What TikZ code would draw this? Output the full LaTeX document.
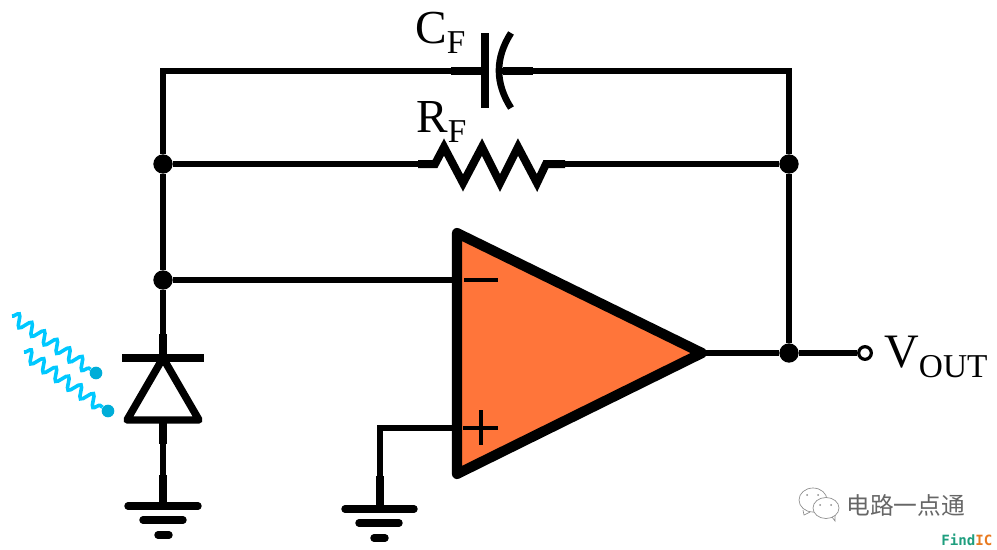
\documentclass[tikz,border=0pt]{standalone}
\usepackage{fontspec}
\setmainfont{Liberation Serif}
\newfontfamily\cjkfont{Noto Sans CJK SC}
\newfontfamily\logofont{DejaVu Sans Mono}
\usetikzlibrary{decorations.pathmorphing}
\definecolor{opampfill}{HTML}{FF753A}
\definecolor{waveblue}{HTML}{00C8FF}
\definecolor{wavedot}{HTML}{00ADD8}
\definecolor{logogreen}{HTML}{1E9E7E}
\definecolor{logoorange}{HTML}{E87A20}
\tikzstyle{wire} = [line width=4pt, line cap=butt, line join=miter]
\tikzstyle{lead} = [line width=5.6pt]
\tikzstyle{plate} = [line width=6.4pt]
\tikzstyle{gndbar} = [line width=5.6pt, line cap=round]
\tikzstyle{junction} = [circle, fill=black, inner sep=0pt, minimum size=14.5pt]
\tikzstyle{terminal} = [circle, draw=black, fill=white, line width=2.4pt, inner sep=0pt, minimum size=9.5pt]
\tikzstyle{wave} = [waveblue, line width=2.7pt, decorate, decoration={snake, segment length=11.4pt, amplitude=4.4pt}]
\tikzstyle{wavetip} = [circle, fill=wavedot, inner sep=0pt, minimum size=9.5pt]
\tikzstyle{label} = [anchor=base west, inner sep=0pt, font=\fontsize{35.5}{36}\selectfont]
\newcommand{\sublabel}[2]{#1\raisebox{-7.5pt}{\fontsize{25}{25}\selectfont #2}}
\begin{document}
\begin{tikzpicture}[x=0.75pt, y=-0.75pt]
	\useasboundingbox (0,0) rectangle (997,550);

	\node (jtop) [junction] at (163,164) {};
	\node (jinv) [junction] at (163,280) {};
	\node (jrf) [junction] at (789,164) {};
	\node (jout) [junction] at (789,353) {};
	\node (vout) [terminal] at (865,353) {};

	\coordinate (capl) at (485,71);
	\coordinate (capr) at (499,71);
	\coordinate (resl) at (418,164);
	\coordinate (resr) at (565,164);
	\coordinate (inv) at (457,280);
	\coordinate (noninv) at (457,428);
	\coordinate (tip) at (702,353);
	\coordinate (cathode) at (163,358);
	\coordinate (anode) at (163,420);
	\coordinate (gnda) at (163,506);
	\coordinate (gndb) at (380,509);

	\draw [wire] (jtop) |- (capl);
	\draw [wire] (capr) -| (jrf);
	\draw [wire] (jtop) -- (jinv);
	\draw [wire] (jtop) -- (resl);
	\draw [wire] (resr) -- (jrf);
	\draw [wire] (jrf) -- (jout);
	\draw [wire] (jinv) -- (inv);
	\draw [wire] (tip) -- (jout);
	\draw [wire] (jout) -- (vout);
	\draw [wire] (noninv) -| (gndb);
	\draw [wire] (jinv) -- (cathode);
	\draw [wire] (anode) -- (gnda);

	\draw [lead] (451,71) -- (capl);
	\draw [lead] (503,71) -- (533,71);
	\draw [plate] (485,33) -- (485,108);
	\draw [line width=5pt] (511,33) .. controls (495,58) and (495,83) .. (511,108);

	\draw [lead, line width=6pt, line join=miter] (resl) -- (435,164) -- (444,147) -- (463,183) -- (482,147) -- (500,183) -- (518,147) -- (537,183) -- (546,164) -- (resr);

	\draw [line width=7.6pt, line join=round, fill=opampfill] (457,233) -- (tip) -- (457,474) -- cycle;
	\draw [line width=3.6pt] (464,280) -- (498,280);
	\draw [line width=3.6pt] (463,428) -- (498,428);
	\draw [line width=3.6pt] (481,410) -- (481,445);

	\draw [lead] (163,334) -- (cathode);
	\draw [plate] (122,358) -- (204,358);
	\draw [line width=5.6pt, line join=round] (cathode) -- (199,420) -- (127,420) -- cycle;
	\draw [lead] (anode) -- (163,444);
	\draw [lead] (163,475) -- (gnda);
	\draw [gndbar] (128,506) -- (198,506);
	\draw [gndbar] (143,520) -- (183,520);
	\draw [gndbar] (158,535) -- (169,535);

	\draw [lead] (380,476) -- (gndb);
	\draw [gndbar] (345,509) -- (414,509);
	\draw [gndbar] (359,523) -- (399,523);
	\draw [gndbar] (374,538) -- (385,538);

	\node (tipa) [wavetip] at (96,373) {};
	\node (tipb) [wavetip] at (108,411) {};
	\coordinate (wavea) at (12,316);
	\coordinate (waveb) at (24,352);
	\draw [wave] (wavea) -- (tipa);
	\draw [wave] (waveb) -- (tipb);

	\node (cf) [label] at (415,43) {\sublabel{C}{F}};
	\node (rf) [label] at (416,132) {\sublabel{R}{F}};
	\node (voutlabel) [label, font=\fontsize{36}{36}\selectfont] at (884,367) {V\raisebox{-7.5pt}{\fontsize{25}{25}\selectfont OUT}};

	\node (wmtext) [anchor=west, inner sep=0pt, text=black!60, font=\cjkfont\fontsize{17.8}{18}\selectfont] at (846,505) {电路一点通};
	\node (logo) [anchor=base west, inner sep=0pt, font=\logofont\bfseries\fontsize{10.6}{11}\selectfont] at (941,545) {\textcolor{logogreen}{Find}\textcolor{logoorange}{IC}};

	\draw [black!45, line width=0.5pt, fill=white] (813,500) ellipse [x radius=14, y radius=12];
	\draw [black!45, line width=0.5pt] (803,510) -- (804,515) -- (810,512);
	\draw [black!45, line width=0.5pt, fill=white] (826,508) ellipse [x radius=13, y radius=10.5];
	\draw [black!45, line width=0.5pt] (832,517) -- (835,521) -- (835,515);
	\fill [black!45] (807,495) circle [radius=1] (818,495) circle [radius=1] (820,505) circle [radius=1] (831,505) circle [radius=1];
\end{tikzpicture}
\end{document}
